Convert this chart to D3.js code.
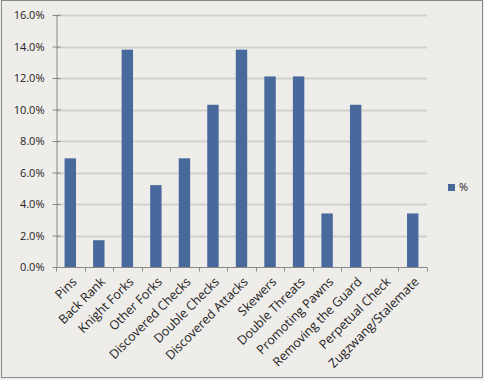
<!DOCTYPE html>
<html><head><meta charset="utf-8">
<script src="https://cdn.jsdelivr.net/npm/d3@7"></script>
<style>body{margin:0;background:#efedea;}svg{display:block;}</style>
</head><body>
<script>
const categories = ["Pins","Back Rank","Knight Forks","Other Forks","Discovered Checks","Double Checks","Discovered Attacks","Skewers","Double Threats","Promoting Pawns","Removing the Guard","Perpetual Check","Zugzwang/Stalemate"];
const values = [6.9,1.7,13.8,5.2,6.9,10.3,13.8,12.1,12.1,3.4,10.3,0,3.4];
const yTicks = [0,2,4,6,8,10,12,14,16];
const seriesName = "%";

const W=484,H=380;
const svg=d3.select("body").append("svg").attr("width",W).attr("height",H);
svg.append("rect").attr("x",0).attr("y",0).attr("width",W).attr("height",H).attr("fill","#efedea");
svg.append("rect").attr("x",1.5).attr("y",0.5).attr("width",481).attr("height",377).attr("fill","none").attr("stroke","#8a8886");

const x=d3.scaleBand().domain(categories).range([56,427]).paddingInner(0.6).paddingOuter(0.3);
const xb=d3.scaleBand().domain(categories).range([56,427]);
const y=d3.scaleLinear().domain([0,16]).range([267,15]);
const fmt=d=>d.toFixed(1)+"%";

// gridlines
svg.append("g").selectAll("line").data(yTicks.filter(d=>d>0)).join("line")
 .attr("x1",56).attr("x2",427).attr("y1",d=>Math.round(y(d))+0.5).attr("y2",d=>Math.round(y(d))+0.5)
 .attr("stroke","#d3d1ce").attr("stroke-width",2);

// y axis
const ya=svg.append("g").attr("transform","translate(56.5,0)")
 .call(d3.axisLeft(y).tickValues(yTicks).tickFormat(fmt).tickSizeInner(4).tickSizeOuter(0).tickPadding(8));
ya.select(".domain").attr("stroke","#8a8886");
ya.selectAll(".tick line").attr("x2",4).attr("x1",-4).attr("stroke","#8a8886");
ya.selectAll(".tick text").attr("font-family","'Open Sans',sans-serif").attr("font-size",11).attr("fill","#222");

// bars
svg.append("g").selectAll("rect").data(values).join("rect")
 .attr("x",(d,i)=>x(categories[i])).attr("width",x.bandwidth())
 .attr("y",d=>y(d)).attr("height",d=>y(0)-y(d)).attr("fill","#48699c");

// x axis
const xa=svg.append("g").attr("transform","translate(0,267.5)");
xa.append("line").attr("x1",56).attr("x2",427).attr("stroke","#8a8886");
xa.selectAll(".tk").data(categories.concat(["_end"])).join("line").attr("class","tk")
 .attr("x1",(d,i)=>Math.round(56+i*xb.bandwidth())+0.5).attr("x2",(d,i)=>Math.round(56+i*xb.bandwidth())+0.5)
 .attr("y1",0).attr("y2",4).attr("stroke","#8a8886");
xa.selectAll("text").data(categories).join("text")
 .attr("transform",d=>`translate(${xb(d)+xb.bandwidth()/2+4},12) rotate(-45)`)
 .attr("text-anchor","end").attr("font-family","'Open Sans',sans-serif").attr("font-size",12.5).attr("fill","#222")
 .attr("dy","0.35em").text(d=>d);

// legend
const lg=svg.append("g").attr("transform","translate(448,184)");
lg.append("rect").attr("width",7).attr("height",7).attr("fill","#48699c");
lg.append("text").attr("x",11).attr("y",7).attr("font-family","'Open Sans',sans-serif").attr("font-size",11).attr("fill","#222").text(seriesName);
</script>
</body></html>
